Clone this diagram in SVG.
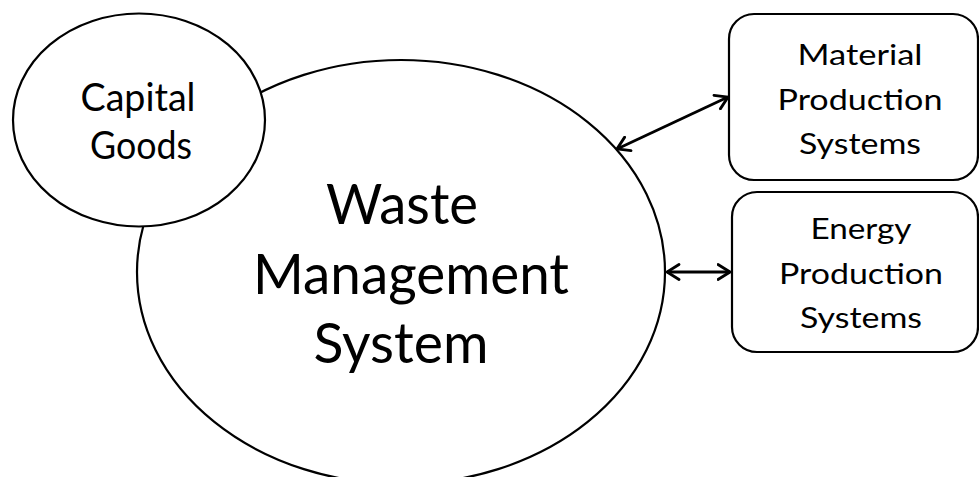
<svg xmlns="http://www.w3.org/2000/svg" width="979" height="477" viewBox="0 0 979 477">
<style>
.shape{fill:#fff;stroke:#000;stroke-width:2.2}
.conn{stroke:#000;stroke-width:2.8;fill:none}
text{font-family:Lato,"Open Sans","Liberation Sans",sans-serif;fill:#000;text-anchor:middle}
.big{font-size:56px}
.mid{font-size:38px}
.sm{font-size:29px}
</style>
<defs>
<marker id="arr" viewBox="0 0 15 18" refX="13.5" refY="9" markerWidth="15" markerHeight="18" markerUnits="userSpaceOnUse" orient="auto-start-reverse">
<path d="M1.5,1.5 L13.5,9 L1.5,16.5" fill="none" stroke="#000" stroke-width="2.8" stroke-linecap="round" stroke-linejoin="miter"/>
</marker>
</defs>
<rect width="979" height="477" fill="#fff"/>
<g id="waste-management-system">
<ellipse class="shape" cx="401" cy="272" rx="264" ry="212"/>
<text class="big" x="402" y="224" textLength="152" lengthAdjust="spacingAndGlyphs">Waste</text>
<text class="big" x="411" y="294" textLength="316" lengthAdjust="spacingAndGlyphs">Management</text>
<text class="big" x="401" y="363" textLength="175" lengthAdjust="spacingAndGlyphs">System</text>
</g>
<g id="capital-goods">
<ellipse class="shape" cx="139" cy="120" rx="126" ry="106.5"/>
<text class="mid" x="138" y="111" textLength="115" lengthAdjust="spacingAndGlyphs">Capital</text>
<text class="mid" x="141" y="159" textLength="102" lengthAdjust="spacingAndGlyphs">Goods</text>
</g>
<g id="material-production-systems">
<rect class="shape" x="729" y="14" width="249" height="166" rx="25"/>
<text class="sm" x="860" y="65" textLength="125" lengthAdjust="spacingAndGlyphs">Material</text>
<text class="sm" x="860" y="110" textLength="165" lengthAdjust="spacingAndGlyphs">Production</text>
<text class="sm" x="860" y="154" textLength="122" lengthAdjust="spacingAndGlyphs">Systems</text>
</g>
<g id="energy-production-systems">
<rect class="shape" x="732" y="192" width="246" height="160" rx="25"/>
<text class="sm" x="861" y="239" textLength="101" lengthAdjust="spacingAndGlyphs">Energy</text>
<text class="sm" x="861" y="284" textLength="164" lengthAdjust="spacingAndGlyphs">Production</text>
<text class="sm" x="861" y="328" textLength="122" lengthAdjust="spacingAndGlyphs">Systems</text>
</g>
<g id="connectors">
<line class="conn" x1="617" y1="149" x2="728" y2="97" marker-start="url(#arr)" marker-end="url(#arr)"/>
<line class="conn" x1="667" y1="272" x2="730" y2="272" marker-start="url(#arr)" marker-end="url(#arr)"/>
</g>
</svg>
